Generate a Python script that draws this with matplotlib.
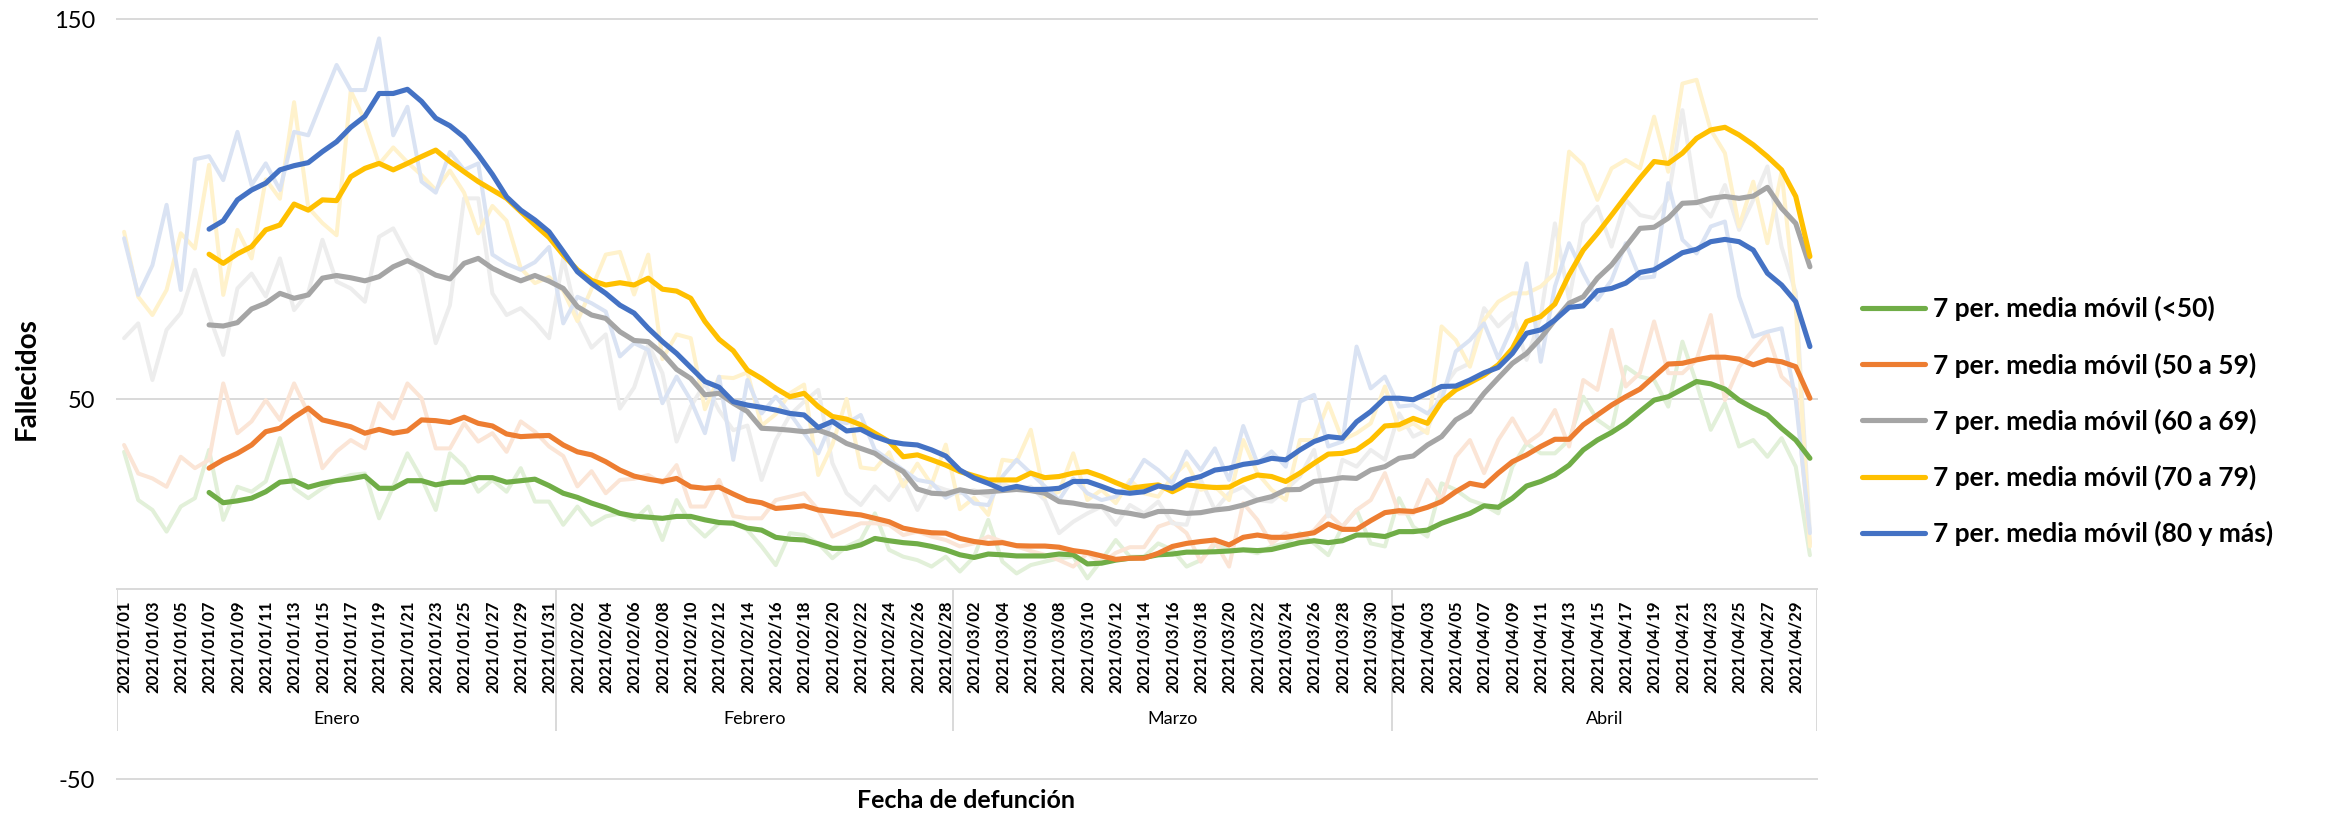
import matplotlib.pyplot as plt
import numpy as np
import pandas as pd

plt.rcParams["font.family"] = ["Lato", "DejaVu Sans"]

# ---------------------------------------------
# datos: fallecidos diarios por grupo de edad (2021/01/01 - 2021/04/30)
# ---------------------------------------------
dates = pd.date_range("2021-01-01", "2021-04-30", freq="D")
months = ["Enero", "Febrero", "Marzo", "Abril"]
month_days = [31, 28, 31, 30]

labels = ["7 per. media móvil (<50)", "7 per. media móvil (50 a 59)",
          "7 per. media móvil (60 a 69)", "7 per. media móvil (70 a 79)",
          "7 per. media móvil (80 y más)"]

raw_lt50 = [
    36.1, 23.4, 20.8, 15.1, 21.7, 23.9, 36.6, 18.2, 26.9, 25.6,
    28.3, 39.7, 26.5, 23.9, 26.5, 28.7, 30.0, 30.4, 18.6, 27.0,
    35.7, 29.1, 20.8, 35.7, 32.2, 25.6, 28.7, 25.6, 31.8, 23.0,
    23.0, 16.9, 21.7, 16.9, 19.1, 19.9, 18.2, 21.7, 12.9, 23.4,
    17.3, 13.8, 17.3, 17.7, 15.5, 11.2, 6.3, 14.7, 14.2, 12.0,
    8.1, 11.2, 12.9, 19.9, 10.3, 8.5, 7.6, 5.9, 8.5, 4.6,
    8.5, 18.2, 7.2, 4.1, 6.3, 7.2, 8.1, 8.5, 2.8, 7.6,
    12.9, 8.5, 8.5, 12.0, 10.3, 5.9, 7.6, 11.6, 10.3, 10.3,
    9.4, 11.2, 12.0, 14.7, 12.0, 8.9, 16.4, 20.8, 12.0, 11.2,
    23.9, 16.4, 13.8, 27.8, 26.1, 23.4, 22.1, 19.9, 32.2, 38.3,
    35.7, 35.7, 39.2, 50.6, 44.5, 41.9, 58.5, 55.9, 55.0, 48.0,
    65.1, 54.1, 41.9, 48.9, 37.5, 39.2, 34.8, 39.7, 32.2, 8.9,
]
raw_50_59 = [
    37.9, 30.4, 29.1, 26.9, 34.8, 31.8, 34.0, 54.1, 41.0, 44.1,
    49.7, 44.5, 54.1, 46.2, 31.8, 36.2, 39.2, 37.0, 48.9, 44.9,
    54.1, 50.2, 37.0, 37.0, 43.6, 38.8, 41.0, 36.1, 44.1, 41.4,
    37.5, 35.0, 27.0, 31.0, 25.2, 28.7, 29.0, 30.0, 27.8, 32.6,
    21.7, 21.7, 28.7, 19.2, 18.6, 18.6, 23.4, 24.3, 25.2, 20.8,
    13.8, 15.5, 17.3, 17.3, 16.9, 14.2, 15.1, 13.8, 12.9, 11.2,
    12.0, 13.8, 12.5, 11.2, 10.0, 9.0, 7.6, 5.9, 9.4, 6.8,
    9.5, 11.0, 11.0, 16.4, 17.7, 14.7, 7.2, 12.5, 5.9, 22.6,
    18.2, 12.0, 14.7, 12.9, 15.5, 19.9, 16.4, 20.8, 23.4, 30.5,
    19.9, 19.9, 28.7, 23.4, 34.8, 39.2, 30.5, 39.2, 44.9, 38.3,
    41.0, 47.1, 37.5, 55.0, 52.4, 68.2, 53.3, 56.8, 70.4, 56.8,
    56.8, 60.3, 72.1, 49.7, 58.5, 62.9, 67.3, 55.9, 52.4, 12.0,
]
raw_60_69 = [
    66.0, 69.9, 55.0, 68.2, 72.6, 84.0, 72.0, 61.6, 79.1, 83.0,
    77.0, 87.0, 73.4, 78.0, 91.9, 80.9, 79.1, 75.6, 92.7, 94.9,
    87.9, 83.0, 64.7, 74.7, 102.8, 102.8, 77.8, 72.1, 73.9, 70.4,
    66.0, 87.0, 71.0, 63.5, 67.0, 47.5, 53.0, 64.3, 56.8, 38.8,
    48.0, 54.1, 47.0, 41.8, 43.0, 28.7, 39.2, 45.8, 49.3, 52.4,
    33.1, 25.2, 22.1, 27.0, 23.4, 28.7, 20.8, 27.4, 26.1, 25.2,
    26.0, 24.3, 27.8, 26.1, 26.9, 23.4, 14.7, 17.7, 19.9, 21.7,
    16.9, 22.1, 19.9, 23.0, 17.3, 16.9, 28.7, 20.8, 25.2, 26.9,
    23.4, 23.0, 26.1, 29.6, 36.6, 19.1, 34.0, 32.2, 36.6, 34.0,
    46.2, 40.1, 41.9, 52.4, 57.6, 59.4, 73.9, 69.1, 72.6, 60.3,
    71.7, 96.2, 76.1, 96.2, 100.6, 90.1, 102.4, 98.4, 97.6, 102.8,
    126.0, 102.4, 98.0, 106.3, 94.5, 102.4, 111.2, 90.0, 78.0, 15.0,
]
raw_70_79 = [
    94.0, 76.9, 72.1, 78.7, 93.6, 89.6, 111.6, 77.4, 94.5, 87.0,
    107.8, 102.7, 128.1, 100.4, 96.3, 93.1, 131.1, 123.2, 111.8, 116.2,
    112.3, 108.9, 105.0, 110.1, 104.3, 93.6, 100.8, 96.9, 84.4, 80.5,
    82.1, 78.5, 70.5, 79.0, 88.0, 88.7, 77.5, 88.0, 60.5, 67.0,
    66.0, 47.3, 55.8, 55.5, 57.0, 43.0, 46.0, 51.5, 53.8, 30.0,
    38.0, 50.0, 32.0, 31.5, 36.0, 27.0, 33.0, 27.5, 38.0, 21.0,
    24.0, 19.5, 34.0, 33.5, 41.9, 24.3, 25.6, 35.7, 23.4, 26.1,
    22.6, 28.7, 25.2, 24.3, 29.6, 33.1, 26.1, 27.0, 23.4, 39.2,
    30.5, 26.1, 23.4, 39.2, 39.2, 48.9, 39.2, 41.0, 43.6, 53.3,
    41.9, 43.6, 41.0, 69.1, 65.5, 58.5, 70.8, 75.6, 77.8, 77.8,
    79.6, 83.1, 115.1, 111.6, 102.4, 110.7, 112.9, 110.7, 124.3, 109.8,
    133.0, 134.0, 120.8, 114.7, 95.4, 107.2, 91.0, 109.8, 74.3, 11.2,
]
raw_80_mas = [
    92.3, 77.4, 85.2, 101.1, 78.7, 113.1, 113.9, 107.6, 120.3, 106.3,
    112.0, 105.0, 120.3, 119.4, 128.7, 137.9, 131.3, 131.3, 144.9, 119.4,
    126.9, 107.2, 104.3, 115.0, 110.3, 112.0, 88.0, 85.6, 84.0, 86.0,
    90.0, 69.9, 76.9, 75.2, 73.0, 61.2, 64.7, 62.9, 48.9, 55.9,
    49.7, 41.0, 55.9, 34.0, 55.0, 46.2, 50.6, 46.2, 41.0, 35.7,
    44.5, 43.6, 45.8, 36.6, 34.0, 31.3, 28.7, 28.0, 24.0, 26.0,
    22.5, 22.1, 29.6, 34.0, 30.5, 27.0, 23.4, 29.1, 25.2, 23.4,
    24.3, 27.8, 34.0, 31.3, 27.8, 36.2, 31.3, 37.0, 28.7, 42.9,
    33.1, 36.2, 32.2, 49.3, 51.1, 37.5, 38.8, 63.8, 52.8, 55.9,
    48.0, 48.4, 46.2, 49.7, 62.5, 65.5, 69.9, 60.7, 69.1, 85.7,
    59.8, 79.6, 91.0, 83.1, 76.1, 81.3, 91.0, 81.8, 82.2, 106.8,
    91.9, 88.3, 95.4, 96.7, 77.0, 66.4, 67.7, 68.6, 49.7, 14.7,
]

# media móvil de 7 periodos (desde 2021/01/07)
mm_lt50 = [
    25.4, 22.7, 23.2, 23.9,
    25.6, 28.1, 28.5, 26.8, 27.8, 28.5, 29.0, 29.7, 26.5, 26.5,
    28.5, 28.5, 27.4, 28.1, 28.1, 29.3, 29.3, 28.1, 28.5, 28.9,
    27.2, 25.2, 24.1, 22.6, 21.4, 19.9, 19.2, 18.9, 18.6, 19.1,
    19.1, 18.2, 17.5, 17.3, 16.0, 15.5, 13.6, 13.1, 12.9, 11.9,
    10.7, 10.7, 11.6, 13.3, 12.7, 12.2, 11.9, 11.2, 10.3, 9.0,
    8.3, 9.2, 9.0, 8.7, 8.7, 8.7, 9.2, 9.0, 6.6, 6.8,
    7.6, 8.1, 8.3, 9.0, 9.2, 9.7, 9.7, 9.8, 10.0, 10.3,
    10.1, 10.4, 11.3, 12.2, 12.7, 12.2, 12.7, 14.2, 14.2, 13.8,
    15.1, 15.1, 15.5, 17.3, 18.6, 19.9, 21.9, 21.5, 23.9, 27.1,
    28.3, 30.0, 32.6, 36.6, 39.2, 41.2, 43.6, 46.7, 49.7, 50.6,
    52.6, 54.6, 54.0, 52.6, 49.7, 47.6, 45.8, 42.3, 39.2, 34.4,
]
mm_50_59 = [
    31.8, 34.0, 35.7, 37.9,
    41.4, 42.3, 45.2, 47.6, 44.5, 43.6, 42.7, 41.0, 42.0, 41.0,
    41.6, 44.5, 44.3, 43.8, 45.2, 43.6, 42.9, 40.8, 40.1, 40.3,
    40.4, 37.9, 36.1, 35.3, 33.5, 31.3, 29.7, 28.9, 28.3, 29.1,
    26.9, 26.5, 26.8, 25.0, 23.3, 22.7, 21.2, 21.5, 21.9, 20.8,
    20.4, 19.9, 19.5, 18.6, 17.7, 16.0, 15.3, 14.8, 14.7, 13.3,
    12.5, 12.0, 12.2, 11.4, 11.3, 11.3, 11.0, 10.1, 9.6, 8.7,
    7.8, 8.1, 8.1, 9.4, 11.2, 12.0, 12.5, 12.9, 11.6, 13.6,
    14.2, 13.6, 13.6, 14.2, 14.8, 17.1, 15.7, 15.7, 18.0, 20.1,
    20.6, 20.4, 21.5, 23.0, 25.6, 27.8, 27.1, 30.5, 33.5, 35.3,
    37.5, 39.4, 39.4, 43.2, 45.8, 48.4, 50.6, 52.6, 55.9, 59.2,
    59.4, 60.3, 61.0, 61.0, 60.5, 59.0, 60.3, 59.8, 58.5, 50.2,
]
mm_60_69 = [
    69.5, 69.2, 70.1, 73.7,
    75.2, 77.8, 76.5, 77.4, 81.8, 82.5, 81.9, 81.1, 82.2, 84.8,
    86.4, 84.6, 82.6, 81.6, 85.7, 87.0, 84.4, 82.6, 81.1, 82.5,
    81.0, 79.1, 74.3, 72.1, 71.2, 67.7, 65.4, 65.1, 62.0, 57.8,
    55.4, 51.1, 51.5, 48.9, 46.7, 42.3, 42.1, 41.8, 41.4, 41.8,
    40.5, 38.3, 37.0, 35.7, 33.1, 30.9, 26.3, 25.2, 25.0, 26.1,
    25.4, 25.6, 25.9, 26.2, 25.9, 25.2, 23.0, 22.6, 21.9, 21.7,
    20.4, 19.9, 19.2, 20.4, 20.4, 19.9, 20.1, 20.8, 21.2, 22.1,
    23.4, 24.3, 26.1, 26.2, 28.3, 28.7, 29.3, 29.1, 31.3, 32.2,
    34.4, 35.0, 37.9, 40.1, 44.5, 46.7, 51.5, 55.5, 59.4, 62.0,
    66.0, 70.8, 75.2, 76.9, 81.8, 85.3, 90.1, 94.9, 95.2, 97.6,
    101.5, 101.7, 102.8, 103.3, 102.8, 103.4, 105.7, 100.2, 96.2, 84.8,
]
mm_70_79 = [
    88.1, 85.7, 88.2, 90.1,
    94.5, 95.8, 101.3, 99.7, 102.4, 102.2, 108.5, 110.7, 112.0, 110.3,
    112.0, 113.8, 115.5, 112.5, 109.8, 107.2, 105.0, 102.8, 99.3, 95.8,
    92.5, 87.9, 84.0, 81.2, 80.0, 80.6, 80.0, 81.8, 78.9, 78.4,
    76.5, 70.4, 65.7, 62.7, 57.6, 55.4, 52.8, 50.6, 51.5, 48.0,
    45.4, 44.7, 43.2, 41.0, 38.8, 34.8, 35.3, 34.0, 32.6, 30.9,
    29.8, 28.7, 28.7, 28.7, 30.5, 29.3, 29.6, 30.5, 30.9, 29.6,
    28.0, 26.5, 27.0, 27.4, 25.6, 27.4, 27.0, 26.7, 26.8, 28.7,
    30.0, 29.6, 28.3, 30.5, 33.1, 35.5, 35.7, 36.6, 39.2, 42.9,
    43.2, 44.9, 43.6, 49.3, 52.4, 54.3, 56.3, 59.0, 63.3, 70.4,
    71.7, 75.0, 82.7, 89.2, 93.6, 98.4, 103.3, 108.1, 112.5, 112.0,
    114.7, 118.6, 120.8, 121.5, 119.5, 116.9, 113.8, 110.3, 103.3, 87.5,
]
mm_80_mas = [
    94.7, 96.9, 102.4, 105.0,
    106.8, 110.3, 111.4, 112.2, 115.1, 117.7, 121.5, 124.4, 130.4, 130.4,
    131.5, 128.3, 123.9, 121.9, 118.9, 114.3, 109.1, 103.2, 99.7, 97.1,
    94.0, 88.8, 83.5, 80.4, 77.8, 74.7, 72.6, 68.6, 65.1, 62.0,
    58.3, 54.6, 53.1, 49.3, 48.4, 47.8, 47.1, 46.2, 45.8, 42.5,
    44.1, 41.6, 42.0, 40.1, 38.8, 38.2, 37.9, 36.6, 35.0, 31.3,
    29.2, 27.8, 26.2, 27.0, 26.2, 26.2, 26.5, 28.3, 28.3, 27.0,
    25.6, 25.2, 25.6, 27.1, 26.5, 28.7, 29.6, 31.3, 31.8, 32.8,
    33.3, 34.4, 34.0, 36.6, 38.8, 40.1, 39.7, 44.0, 46.7, 50.2,
    50.2, 49.8, 51.5, 53.3, 53.4, 55.0, 56.9, 58.3, 62.0, 67.3,
    68.2, 70.8, 74.1, 74.5, 78.5, 79.1, 80.5, 83.3, 84.0, 86.2,
    88.5, 89.4, 91.4, 92.0, 91.4, 89.2, 83.1, 80.0, 75.6, 63.8,
]

raw_series = [raw_lt50, raw_50_59, raw_60_69, raw_70_79, raw_80_mas]
mm_series = [mm_lt50, mm_50_59, mm_60_69, mm_70_79, mm_80_mas]

# colores tipo Office
colors = ["#70AD47", "#ED7D31", "#A5A5A5", "#FFC000", "#4472C4"]
light_colors = ["#E2F0D9", "#FBE5D6", "#EDEDED", "#FFF2CC", "#DAE3F3"]
grid_color = "#D9D9D9"

# ---------------------------------------------
# figura
# ---------------------------------------------
W, H = 2331, 816
fig = plt.figure(figsize=(W / 100, H / 100), dpi=100)
ax = fig.add_axes([117 / W, 37 / H, 1700 / W, 760 / H])

x = np.arange(len(dates))
x_mm = x[6:]

for vals, c in zip(raw_series, light_colors):
    ax.plot(x, vals, color=c, lw=2.9, solid_joinstyle="round", solid_capstyle="round", zorder=2)

mm_lines = []
for vals, c in zip(mm_series, colors):
    ln, = ax.plot(x_mm, vals, color=c, lw=3.7, solid_joinstyle="round", solid_capstyle="round", zorder=3)
    mm_lines.append(ln)

ax.set_xlim(-0.5, len(dates) - 0.5)
ax.set_ylim(-50, 150)

# líneas de cuadrícula
for yv in [-50, 50, 150]:
    ax.axhline(yv, color=grid_color, lw=1.4, zorder=1, clip_on=False)

for s in ["top", "right", "left"]:
    ax.spines[s].set_visible(False)
ax.spines["bottom"].set_position(("data", 0))
ax.spines["bottom"].set_color(grid_color)
ax.spines["bottom"].set_linewidth(1.4)

# eje x: fechas cada 2 días
ax.set_xticks(x[::2])
ax.set_xticklabels(dates[::2].strftime("%Y/%m/%d"), rotation=90, fontsize=12, fontweight="bold", va="top")
ax.tick_params(axis="x", length=0, pad=8)

# eje y
ax.set_yticks([-50, 50, 150])
ax.set_yticklabels(["-50", "50", "150"], fontsize=17)
ax.tick_params(axis="y", length=0, pad=16)

# agrupación por meses
bounds = np.concatenate([[0], np.cumsum(month_days)])
ax.vlines(bounds - 0.5, -37.4, 0, color=grid_color, lw=1.4, zorder=1)
for i, m in enumerate(months):
    xc = (bounds[i] + bounds[i + 1] - 1) / 2
    ax.text(xc, -34.2, m, ha="center", va="center", fontsize=13)

# títulos de ejes
fig.text(27 / W, 1 - 379 / H, "Fallecidos", rotation=90, ha="center", va="center",
         fontsize=20, fontweight="bold")
fig.text(966 / W, 1 - 801 / H, "Fecha de defunción", ha="center", va="center",
         fontsize=18, fontweight="bold")

# leyenda
fig.legend(mm_lines, labels, loc="upper left", bbox_to_anchor=(1862 / W, 1 - 296 / H),
           frameon=False, prop={"size": 19, "weight": "bold"}, handlelength=2.4,
           handletextpad=0.3, labelspacing=1.17, borderpad=0, borderaxespad=0)

fig.savefig("out.png", dpi=100)
